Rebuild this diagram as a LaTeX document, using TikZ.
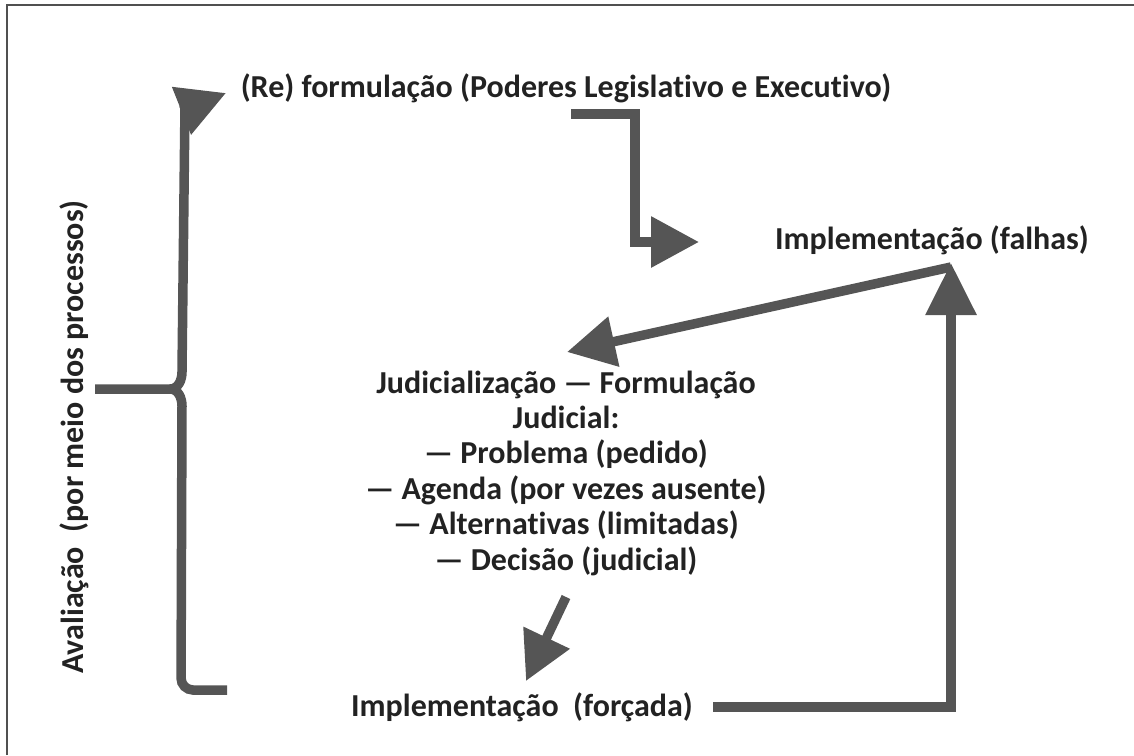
\documentclass[tikz,border=0pt]{standalone}
\usepackage{fontspec}
\setmainfont{Carlito}[Ligatures=NoCommon]
\usetikzlibrary{arrows.meta}
\definecolor{arrowgray}{RGB}{85,85,85}
\definecolor{textgray}{RGB}{34,34,34}
\definecolor{framegray}{RGB}{80,80,80}
\tikzset{
  flow/.style={draw=arrowgray, line width=9.5pt},
  bigtip/.style={-{Triangle[length=#1,width=49pt]}},
  bigtip/.default=48pt,
  txt/.style={text=textgray, inner sep=0pt, font=\bfseries\fontsize{32}{36}\selectfont}
}
\begin{document}
\begin{tikzpicture}[x=1pt,y=-1pt]
    \useasboundingbox (0,0) rectangle (1134,755);
    \draw[framegray, line width=1.5pt] (7,755) -- (7,5) -- (1134,5);
    % texts
    \node[txt, anchor=base] (form) at (566,97) {(Re) formulação (Poderes Legislativo e Executivo)};
    \node[txt, anchor=base] (falhas) at (932,249) {Implementação (falhas)};
    \node[txt, anchor=base] (forcada) at (522,716) {Implementação\ \ (forçada)};
    \node[txt, anchor=base, rotate=90] (aval) at (83,437) {Avaliação\ \ (por meio dos processos)};
    \foreach \jtext [count=\i] in {Judicialização — Formulação, Judicial:, — Problema (pedido),
        — Agenda (por vezes ausente), — Alternativas (limitadas), — Decisão (judicial)}
      \node[txt, anchor=base] (j\i) at (566,{393+35.4*(\i-1)}) {\jtext};
    % arrow ends
    \coordinate (form-out) at (571,114);
    \coordinate (falhas-in1) at (699,242);
    \coordinate (falhas-out) at (951,267);
    \coordinate (judic-in) at (567,352);
    \coordinate (decisao-out) at (566,597);
    \coordinate (forcada-in) at (526,681);
    \coordinate (forcada-out) at (713,707);
    \coordinate (falhas-in2) at (951,263);
    % arrows
    \draw[flow, bigtip] (form-out) -- ++(64,0) |- (falhas-in1);
    \draw[flow, bigtip] (falhas-out) -- (judic-in);
    \draw[flow, bigtip] (decisao-out) -- (forcada-in);
    \draw[flow, bigtip=52pt] (forcada-out) -| (falhas-in2);
    % bracket
    \draw[flow] (95,389) -- (170,389) to[out=0,in=-90] (182,372) -- (185,105);
    \draw[flow] (170,389) to[out=0,in=90] (182,406) [rounded corners=12pt] -- (181,690) -- (227,690);
    \draw[flow, bigtip] (181,111) -- (226,93);
\end{tikzpicture}
\end{document}
